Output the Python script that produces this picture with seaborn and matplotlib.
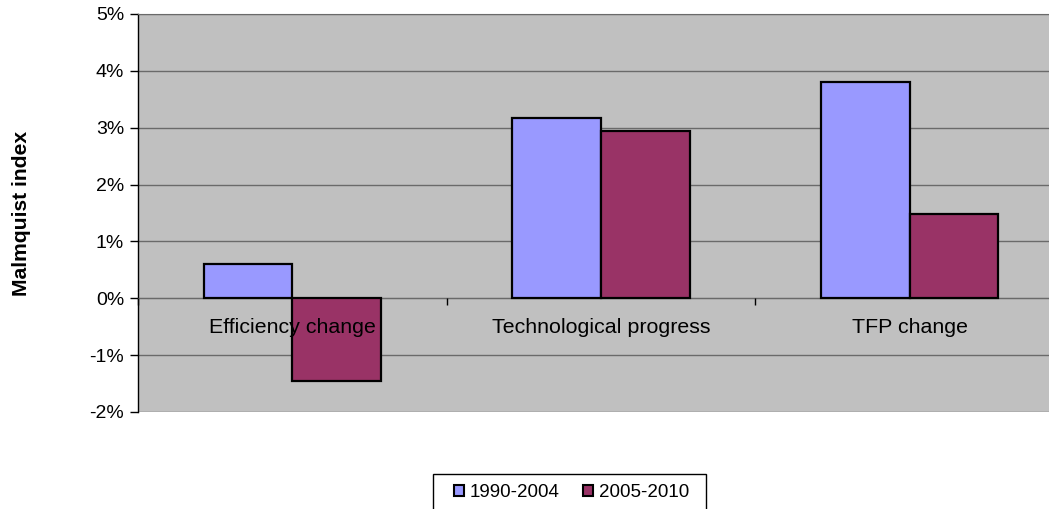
import numpy as np
import pandas as pd
import matplotlib
matplotlib.use('Agg')
import matplotlib.pyplot as plt
from matplotlib.patches import Rectangle
from matplotlib.ticker import PercentFormatter, FixedLocator
import seaborn as sns

# Malmquist index decomposition, average annual change (%)
categories = ["Efficiency change", "Technological progress", "TFP change"]
periods = ["1990-2004", "2005-2010"]
values_1990_2004 = [0.60, 3.17, 3.80]
values_2005_2010 = [-1.46, 2.95, 1.48]
colors = ["#9999FF", "#993366"]

df = pd.DataFrame({
    'category': categories * 2,
    'period': [periods[0]] * 3 + [periods[1]] * 3,
    'value': values_1990_2004 + values_2005_2010,
})

sns.set_style('white')
plt.rcParams['font.family'] = ['Liberation Sans', 'DejaVu Sans']
plt.rcParams['axes.unicode_minus'] = False
plt.rcParams['text.color'] = 'black'
plt.rcParams['xtick.color'] = 'black'
plt.rcParams['ytick.color'] = 'black'
plt.rcParams['axes.labelcolor'] = 'black'

fig = plt.figure(figsize=(10.49, 5.09), dpi=100)
ax = fig.add_axes([138 / 1049, 97 / 509, 926 / 1049, 398 / 509])
ax.set_facecolor('#C0C0C0')

sns.barplot(data=df, x='category', y='value', hue='period', palette=colors,
            saturation=1, width=0.574, edgecolor='black', linewidth=1.6,
            errorbar=None, ax=ax, zorder=3)

ax.set_xlim(-0.5, 2.5)
ax.set_ylim(-2, 5)
ax.yaxis.set_major_locator(FixedLocator(np.arange(-2, 6, 1)))
ax.yaxis.set_major_formatter(PercentFormatter(100, decimals=0))
ax.yaxis.grid(True, color='#6a6a6a', lw=1)
ax.set_axisbelow(True)

# category axis crosses at zero, like the Excel original
ax.spines['bottom'].set_position(('data', 0))
ax.spines['bottom'].set_color('#6a6a6a')
ax.spines['top'].set_color('#6a6a6a')
ax.spines['right'].set_color('#6a6a6a')
ax.spines['left'].set_color('black')
ax.spines['left'].set_linewidth(1)

ax.set_xticks([-0.5, 0.5, 1.5, 2.5])
ax.set_xticklabels([])
ax.set_xticks([0, 1, 2], minor=True)
ax.set_xticklabels(categories, minor=True, fontsize=15.4)
ax.tick_params(axis='x', which='major', direction='out', length=5,
               width=1, color='black', bottom=True)
ax.tick_params(axis='x', which='minor', length=0, pad=14, bottom=True)
ax.tick_params(axis='y', direction='out', length=6, width=1, color='black',
               labelsize=14, left=True, pad=4)
# category labels sit on top of the bars
ax.xaxis.set_zorder(4)

ax.set_xlabel('')
ax.set_ylabel('Malmquist index', fontsize=15.2, fontweight='bold')
ax.yaxis.set_label_coords(-0.1155, 0.5)

handles, labels = ax.get_legend_handles_labels()
ax.get_legend().remove()
leg = fig.legend(handles, labels, loc='upper left',
                 bbox_to_anchor=(454 / 1049, 1 - 484 / 509), ncol=2,
                 frameon=False, fontsize=13.5, handlelength=0.53,
                 handleheight=0.53, handletextpad=0.32, columnspacing=1.23,
                 borderpad=0, borderaxespad=0)
for h in leg.legend_handles:
    h.set_edgecolor('black')
    h.set_linewidth(1.5)

# legend box, running off the bottom edge as in the original
fig.patches.append(Rectangle((433 / 1049, -0.05), 273 / 1049,
                             (1 - 474 / 509) + 0.05, transform=fig.transFigure,
                             fill=False, edgecolor='black', linewidth=1))

fig.savefig('out.png', dpi=100)
